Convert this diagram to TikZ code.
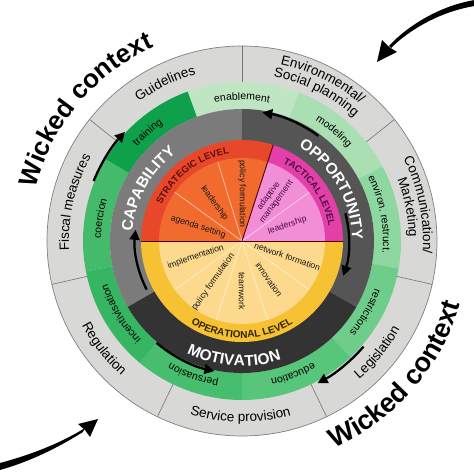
\documentclass[tikz,border=0pt]{standalone}
\usepackage{fontspec}
\setmainfont{Liberation Sans}
\usetikzlibrary{decorations.text,arrows.meta}
\definecolor{ringgray}{HTML}{D8D8D6}
\definecolor{gEnab}{HTML}{BFE5C2}
\definecolor{gModel}{HTML}{A9DFB3}
\definecolor{gEnv}{HTML}{8DD7A0}
\definecolor{gRestr}{HTML}{6ECD8A}
\definecolor{gEdu}{HTML}{57C57A}
\definecolor{gPers}{HTML}{47BE6E}
\definecolor{gIncent}{HTML}{36B563}
\definecolor{gCoerc}{HTML}{43BB6A}
\definecolor{gTrain}{HTML}{0FA04C}
\definecolor{capgray}{HTML}{7B7B7B}
\definecolor{oppgray}{HTML}{555555}
\definecolor{motgray}{HTML}{333333}
\definecolor{stratband}{HTML}{E8472A}
\definecolor{stratin}{HTML}{F06B2D}
\definecolor{tacband}{HTML}{E23FA8}
\definecolor{tacin}{HTML}{F18ED5}
\definecolor{opband}{HTML}{F6C132}
\definecolor{opin}{HTML}{FCD98C}
\definecolor{stratlab}{HTML}{5E0E0E}
\definecolor{taclab}{HTML}{4A0C46}
\definecolor{oplab}{HTML}{2E2400}
\newcommand{\annseg}[5]{\fill[#1] (#2:#4pt) arc[start angle=#2,end angle=#3,radius=#4pt] -- (#3:#5pt) arc[start angle=#3,end angle=#2,radius=#5pt] -- cycle;}
\newcommand{\cwtext}[5]{\path[decorate,decoration={text along path,text align=center,text={|#4|#5}}] (#2+#3:#1pt) arc[start angle=#2+#3,end angle=#2-#3,radius=#1pt];}
\newcommand{\ccwtext}[5]{\path[decorate,decoration={text along path,text align=center,text={|#4|#5}}] (#2-#3:#1pt) arc[start angle=#2-#3,end angle=#2+#3,radius=#1pt];}
\newcommand{\graytxt}{\fontsize{13.5}{15}\selectfont}
\newcommand{\greentxt}{\fontsize{10.5}{12}\selectfont}
\newcommand{\bigwhite}{\color{white}\bfseries\fontsize{15.5}{17}\selectfont}
\begin{document}
\begin{tikzpicture}[x=1pt,y=1pt,
  pielab/.style={font=\fontsize{8.7}{9.7}\selectfont, inner sep=0pt, text=black!90},
  taclabnode/.style={pielab, text=taclab},
  ringarrow/.style={draw=black, line width=2.3pt, -{Triangle[length=10pt,width=10pt]}},
  thinlight/.style={draw=white, draw opacity=0.6, line width=0.7pt},
  darkdiv/.style={draw=black!70!red, line width=0.9pt},
  divider/.style={draw=black!55, line width=0.6pt}]
\useasboundingbox (-242,-233) rectangle (232,241);
\fill[white] (-242,-233) rectangle (232,241);
% outer gray ring
\fill[ringgray] (0,0) circle[radius=195pt];
\draw[black!50, line width=0.7pt] (0,0) circle[radius=195pt];
\foreach \a in {90,141.43,192.86,244.29,295.71,347.14,38.57} \draw[divider] (\a:159pt) -- (\a:195pt);
% green ring
\annseg{gEnab}{69}{110}{132}{159}
\annseg{gModel}{28}{69}{132}{159}
\annseg{gEnv}{-10}{28}{132}{159}
\annseg{gRestr}{-47}{-10}{132}{159}
\annseg{gEdu}{-90}{-47}{132}{159}
\annseg{gPers}{230}{270}{132}{159}
\annseg{gIncent}{191}{230}{132}{159}
\annseg{gCoerc}{149}{191}{132}{159}
\annseg{gTrain}{110}{149}{132}{159}
% dark ring
\annseg{capgray}{90}{210}{100}{132}
\annseg{oppgray}{-30}{90}{100}{132}
\annseg{motgray}{210}{330}{100}{132}
% pie
\fill[stratband] (0,0) -- (72:101pt) arc[start angle=72,end angle=180,radius=101pt] -- cycle;
\fill[stratin] (0,0) -- (72:83pt) arc[start angle=72,end angle=180,radius=83pt] -- cycle;
\fill[tacband] (0,0) -- (0:101pt) arc[start angle=0,end angle=72,radius=101pt] -- cycle;
\fill[tacin] (0,0) -- (0:83pt) arc[start angle=0,end angle=72,radius=83pt] -- cycle;
\fill[opband] (0,0) -- (180:101pt) arc[start angle=180,end angle=360,radius=101pt] -- cycle;
\fill[opin] (0,0) -- (180:83pt) arc[start angle=180,end angle=360,radius=83pt] -- cycle;
\foreach \a in {107,144,36,216,252,288,324} \draw[thinlight] (0,0) -- (\a:83pt);
\draw[darkdiv] (180:101pt) -- (0:101pt);
\draw[darkdiv] (0,0) -- (72:101pt);
% pie labels
\node[pielab, rotate=-90] (sPolicy) at (90:47pt) {policy formulation};
\node[pielab, rotate=-54] (sLead) at (126:47pt) {leadership};
\node[pielab, rotate=-18] (sAgenda) at (162:46pt) {agenda setting};
\node[taclabnode, rotate=54, align=center] (tAdapt) at (54:52pt) {adaptive\\management};
\node[taclabnode, rotate=19] (tLead) at (19:48pt) {leadership};
\node[pielab, rotate=19] (oImpl) at (199:49pt) {implementation};
\node[pielab, rotate=55] (oPolicy) at (235:50pt) {policy formulation};
\node[pielab, rotate=-90] (oTeam) at (270:50pt) {teamwork};
\node[pielab, rotate=-55] (oInnov) at (305:47pt) {innovation};
\node[pielab, rotate=-19] (oNet) at (341:48pt) {network formation};
% level labels
\cwtext{88}{127}{50}{\color{stratlab}\bfseries\fontsize{9.5}{11}\selectfont}{STRATEGIC LEVEL}
\cwtext{88}{36}{50}{\color{taclab}\bfseries\fontsize{9.5}{11}\selectfont}{TACTICAL LEVEL}
\ccwtext{97}{270}{50}{\color{oplab}\bfseries\fontsize{10}{12}\selectfont}{OPERATIONAL LEVEL}
% dark ring labels
\cwtext{110}{151}{45}{\bigwhite}{CAPABILITY}
\cwtext{110}{30}{45}{\bigwhite}{OPPORTUNITY}
\ccwtext{125}{266}{45}{\bigwhite}{MOTIVATION}
% green ring labels
\cwtext{141}{90}{35}{\greentxt}{enablement}
\cwtext{141}{50}{35}{\greentxt}{modeling}
\cwtext{141}{11}{35}{\greentxt}{environ. restruct.}
\cwtext{141}{330}{35}{\greentxt}{restrictions}
\cwtext{141}{291}{35}{\greentxt}{education}
\cwtext{141}{250}{35}{\greentxt}{persuasion}
\cwtext{141}{211}{35}{\greentxt}{incentivisation}
\cwtext{141}{171}{35}{\greentxt}{coercion}
\cwtext{141}{131}{35}{\greentxt}{training}
% gray ring labels
\cwtext{173}{116}{40}{\graytxt}{Guidelines}
\cwtext{173}{167}{40}{\graytxt}{Fiscal measures}
\ccwtext{181}{218}{40}{\graytxt}{Regulation}
\ccwtext{181}{269.5}{40}{\graytxt}{Service provision}
\ccwtext{181}{320.5}{40}{\graytxt}{Legislation}
\cwtext{181}{11.5}{40}{\graytxt}{Communication/}
\cwtext{167}{11.5}{40}{\graytxt}{Marketing}
\cwtext{181}{63.5}{40}{\graytxt}{Environmental/}
\cwtext{167}{63.5}{40}{\graytxt}{Social planning}
% ring arrows
\draw[ringarrow] (54:130pt) arc[start angle=54,end angle=81,radius=130pt];
\draw[ringarrow] (15:107pt) arc[start angle=15,end angle=-19,radius=107pt];
\draw[ringarrow] (207:107pt) arc[start angle=207,end angle=174,radius=107pt];
\draw[ringarrow] (158:160pt) arc[start angle=158,end angle=137,radius=160pt];
\draw[ringarrow] (-41:161pt) arc[start angle=-41,end angle=-62,radius=161pt];
\draw[ringarrow] (230:133pt) arc[start angle=230,end angle=258,radius=133pt];
% wicked context
\cwtext{213}{140}{60}{\bfseries\fontsize{26}{30}\selectfont}{Wicked context}
\ccwtext{227}{-41}{60}{\bfseries\fontsize{27}{31}\selectfont}{Wicked context}
% outer swoosh arrows
\fill[black] (233,241) .. controls (200,236) and (166,216) .. (147,195) -- (149,193) .. controls (168,212) and (200,230) .. (233,235) -- cycle;
\fill[black] (135,179) -- (140,201) -- (147,194) -- (155,189) -- cycle;
\fill[black] (-242,-222) .. controls (-205,-212) and (-178,-200) .. (-157,-187) -- (-159,-191) .. controls (-180,-204) and (-207,-219) .. (-242,-229) -- cycle;
\fill[black] (-144,-178) -- (-164,-183) -- (-157,-189) -- (-152,-196) -- cycle;
\end{tikzpicture}
\end{document}
